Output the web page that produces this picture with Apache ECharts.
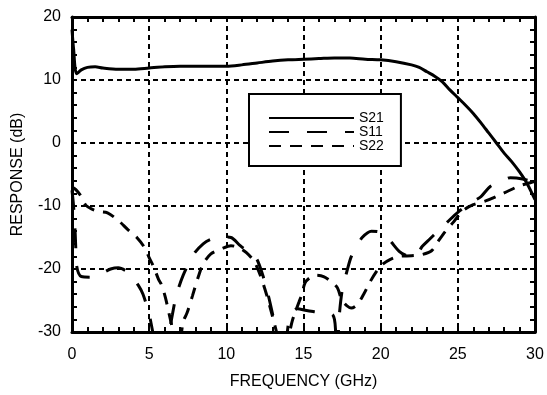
<!DOCTYPE html>
<html>
<head>
<meta charset="utf-8">
<script src="https://cdn.jsdelivr.net/npm/echarts@6/dist/echarts.min.js"></script>
<style>
html,body{margin:0;padding:0;background:#fff;}
#chart{width:547px;height:395px;}
</style>
</head>
<body>
<div id="chart"></div>
<script>
// ---- data ----
var xTicks = [0, 5, 10, 15, 20, 25, 30];
var yTicks = [-30, -20, -10, 0, 10, 20];

var freqS21 = [0, 0.1, 0.3, 0.6, 1, 1.5, 2, 3, 4, 5, 6, 7, 8, 9, 10, 11, 12, 13, 14, 15, 16, 17, 18, 19, 20, 21, 22, 22.5, 23, 23.5, 24, 24.5, 25, 25.5, 26, 26.5, 27, 27.5, 28, 28.5, 29, 29.5, 30];
var s21 = [18, 15, 11, 11.6, 12.0, 12.1, 11.9, 11.7, 11.7, 11.9, 12.1, 12.2, 12.2, 12.2, 12.2, 12.4, 12.7, 13.0, 13.2, 13.3, 13.4, 13.5, 13.5, 13.3, 13.2, 12.9, 12.4, 12.0, 11.3, 10.6, 9.7, 8.4, 7.2, 6.0, 4.7, 3.2, 1.6, 0, -1.6, -3.0, -4.6, -6.5, -9.0];

var freqS11 = [0, 0.1, 0.2, 0.25, 0.3, 0.6, 1.3, 2.0, 2.5, 3.0, 3.5, 3.85, 4.3, 4.6, 5.0, 5.25, 5.6, 6.0, 6.3, 6.5, 6.75, 7.2, 7.9, 8.5, 9.0, 9.8, 10.3, 10.9, 11.5, 11.9, 12.3, 12.7, 13.0, 13.25, 13.5, 13.8, 14.1, 14.6, 15.2, 16.0, 16.9, 17.1, 17.2, 17.3, 17.5, 17.8, 18.1, 18.5, 18.8, 19.4, 20.0, 20.6, 21.2, 21.7, 22.2, 22.7, 23.2, 23.7, 24.3, 25.0, 25.9, 26.5, 27.1, 27.8, 28.4, 29.2, 30];
var s11 = [-7.5, -10, -14, -17, -19.5, -21.2, -21.3, -20.6, -20.0, -19.8, -20.3, -21.1, -22.6, -24.0, -27.2, -30.2, -34, -33, -30, -27.3, -24.3, -21.0, -17.6, -16.0, -15.3, -14.9, -15.0, -16.3, -17.4, -18.1, -20.5, -24.0, -27.2, -30.2, -34, -33, -27.8, -26.3, -26.6, -26.9, -27.3, -30.5, -33, -28, -23.5, -20.5, -18.0, -16.3, -15.0, -14.0, -14.2, -15.5, -17.2, -17.9, -18.0, -16.4, -15.2, -14.0, -12.6, -11.0, -9.4, -8.5, -6.9, -6.1, -5.5, -5.7, -6.3];

var freqS22 = [0, 0.25, 0.6, 0.9, 1.3, 1.75, 2.3, 3.0, 3.6, 4.2, 4.7, 5.0, 5.3, 5.6, 5.8, 6.05, 6.3, 6.55, 6.8, 7.0, 7.2, 7.45, 7.8, 8.2, 8.5, 9.0, 9.7, 10.3, 10.8, 11.3, 11.8, 12.2, 12.6, 13.0, 13.3, 13.6, 14.0, 14.3, 14.7, 14.9, 15.1, 15.4, 15.8, 16.3, 16.9, 17.2, 17.5, 17.8, 18.1, 18.5, 18.9, 19.3, 19.7, 20.1, 20.6, 21.2, 22.0, 22.7, 23.3, 23.7, 24.2, 24.7, 25.3, 26.0, 26.8, 27.5, 28.2, 29.0, 29.7, 30];
var s22 = [-7.0, -7.4, -8.5, -9.9, -10.5, -10.9, -11.1, -12.3, -13.7, -15.0, -16.6, -18.2, -19.7, -21.6, -22.5, -24.5, -27.2, -30, -34, -32, -28.4, -27.0, -24.3, -21.1, -19.2, -17.6, -16.8, -16.3, -16.6, -17.4, -18.8, -21, -24, -27.6, -30.5, -34, -31, -28, -25.3, -24.0, -22.2, -21.4, -21.0, -21.2, -22.2, -23.0, -25.0, -25.8, -26.2, -25.6, -24.0, -22.1, -20.5, -19.3, -18.5, -18.0, -17.9, -17.7, -17.1, -15.7, -14.0, -12.6, -10.8, -9.8, -9.2, -8.5, -7.7, -6.8, -6.3, -6.1];

var seriesNames = ['S21', 'S11', 'S22'];

function pairs(xs, ys) {
  return xs.map(function (x, i) { return [x, ys[i]]; });
}

var FONT = '"Liberation Sans", Arial, Helvetica, sans-serif';
var chart = echarts.init(document.getElementById('chart'), null, {renderer: 'canvas'});

function frameAxis(pos, min, max, interval) {
  return {
    type: 'value', min: min, max: max, interval: interval,
    position: pos,
    axisLine: {show: true, onZero: false, lineStyle: {color: '#000', width: 3}},
    axisTick: {show: true, inside: true, length: 5, lineStyle: {color: '#000', width: 2}},
    minorTick: {show: true, splitNumber: 5, length: 5, lineStyle: {color: '#000', width: 2}},
    axisLabel: {show: false},
    splitLine: {show: false}
  };
}

chart.setOption({
  animation: false,
  backgroundColor: '#fff',
  textStyle: {fontFamily: FONT, color: '#000'},
  grid: {left: 72, right: 12, top: 17, bottom: 62, containLabel: false},
  legend: {
    data: seriesNames,
    orient: 'vertical',
    left: 249,
    top: 94,
    itemWidth: 85,
    itemHeight: 14,
    itemGap: 0,
    padding: [17, 17, 13, 19],
    borderColor: '#000',
    borderWidth: 2,
    backgroundColor: '#fff',
    itemStyle: {opacity: 0, borderWidth: 0},
    textStyle: {fontSize: 14, color: '#000', fontFamily: FONT},
    z: 5
  },
  xAxis: [{
    type: 'value', min: 0, max: 30, interval: 5,
    position: 'bottom',
    name: 'FREQUENCY (GHz)', nameLocation: 'middle', nameGap: 42,
    nameTextStyle: {fontSize: 16, color: '#000', fontFamily: FONT},
    axisLine: {show: true, onZero: false, lineStyle: {color: '#000', width: 3}},
    axisTick: {show: true, inside: true, length: 5, lineStyle: {color: '#000', width: 2}},
    minorTick: {show: true, splitNumber: 5, length: 5, lineStyle: {color: '#000', width: 2}},
    axisLabel: {fontSize: 16, color: '#000', margin: 15, fontFamily: FONT,
      formatter: function (v) { return xTicks.indexOf(v) >= 0 ? String(v) : ''; }},
    splitLine: {show: true, lineStyle: {color: '#000', width: 2, type: [5, 4]}}
  }, frameAxis('top', 0, 30, 5)],
  yAxis: [{
    type: 'value', min: -30, max: 20, interval: 10,
    position: 'left',
    name: 'RESPONSE (dB)', nameLocation: 'middle', nameGap: 46,
    nameTextStyle: {fontSize: 16, color: '#000', fontFamily: FONT},
    axisLine: {show: true, onZero: false, lineStyle: {color: '#000', width: 3}},
    axisTick: {show: true, inside: true, length: 5, lineStyle: {color: '#000', width: 2}},
    minorTick: {show: true, splitNumber: 5, length: 5, lineStyle: {color: '#000', width: 2}},
    axisLabel: {fontSize: 16, color: '#000', margin: 11, fontFamily: FONT,
      formatter: function (v) { return yTicks.indexOf(v) >= 0 ? String(v) : ''; }},
    splitLine: {show: true, lineStyle: {color: '#000', width: 2, type: [5, 4]}}
  }, frameAxis('right', -30, 20, 10)],
  series: [{
    name: 'S21', type: 'line', symbol: 'none', smooth: 0.3,
    data: pairs(freqS21, s21), clip: true, z: 3,
    lineStyle: {color: '#000', width: 3, type: 'solid'},
    itemStyle: {color: '#000'}
  }, {
    name: 'S11', type: 'line', symbol: 'none', smooth: 0.3,
    data: pairs(freqS11, s11), clip: true, z: 3,
    lineStyle: {color: '#000', width: 3, type: [20, 18]},
    itemStyle: {color: '#000'}
  }, {
    name: 'S22', type: 'line', symbol: 'none', smooth: 0.3,
    data: pairs(freqS22, s22), clip: true, z: 3,
    lineStyle: {color: '#000', width: 3, type: [12, 9]},
    itemStyle: {color: '#000'}
  }]
});
</script>
</body>
</html>
